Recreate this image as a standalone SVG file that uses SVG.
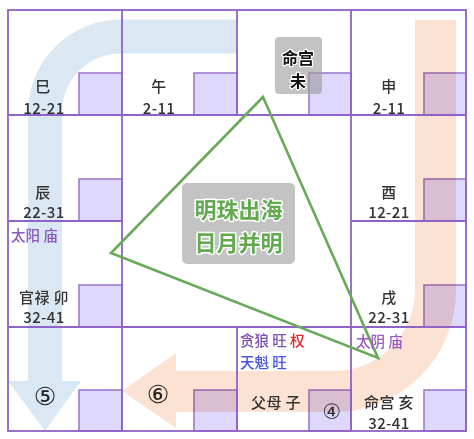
<svg xmlns="http://www.w3.org/2000/svg" width="474" height="439" viewBox="0 0 474 439">
<style>
text{font-family:"Noto Sans CJK SC","Noto Sans",sans-serif;dominant-baseline:central;text-anchor:middle}
.lbl{font-size:15px;fill:#333;font-weight:500;letter-spacing:0.4px}
.star{font-size:14.5px;text-anchor:start;font-weight:500}
.box{fill:#ddd8fc;stroke:#9a72d0;stroke-width:1.5}
.grid{stroke:#8e62c6;stroke-width:1.8;fill:none}
.num{font-size:25px;fill:#222;font-family:"DejaVu Sans",sans-serif}
.hl{font-weight:bold;paint-order:stroke;stroke:#fff;stroke-linejoin:round}
</style>
<rect width="474" height="439" fill="#fff"/>
<g id="cells-boxes">
<rect class="box" x="79" y="73" width="43" height="42"/>
<rect class="box" x="194" y="73" width="43" height="42"/>
<rect class="box" x="309" y="73" width="42" height="42"/>
<rect class="box" x="424" y="73" width="42" height="42"/>
<rect class="box" x="79" y="179" width="43" height="42"/>
<rect class="box" x="424" y="179" width="42" height="42"/>
<rect class="box" x="79" y="285" width="43" height="42"/>
<rect class="box" x="424" y="285" width="42" height="42"/>
<rect class="box" x="79" y="390" width="43" height="41"/>
<rect class="box" x="194" y="390" width="43" height="41"/>
<rect class="box" x="309" y="390" width="42" height="41"/>
<rect class="box" x="424" y="390" width="42" height="41"/>
</g>
<g id="flow-arrows" style="mix-blend-mode:multiply">
<path d="M237 36.5 H121 A76 76 0 0 0 45 112.5 V382" fill="none" stroke="#dae8f4" stroke-width="34"/>
<polygon points="8,381 81,381 45,431" fill="#dae8f4"/>
<path d="M435.5 20 V290 A101.5 101.5 0 0 1 334 391.5 H175" fill="none" stroke="#fbe2d3" stroke-width="41"/>
<polygon points="176,353 176,428 122,391" fill="#fbe2d3"/>
</g>
<g id="grid" class="grid">
<rect x="8" y="10" width="458" height="421"/>
<line x1="122" y1="10" x2="122" y2="431"/>
<line x1="351" y1="10" x2="351" y2="431"/>
<line x1="237" y1="10" x2="237" y2="115"/>
<line x1="237" y1="327" x2="237" y2="431"/>
<line x1="8" y1="115" x2="466" y2="115"/>
<line x1="8" y1="327" x2="466" y2="327"/>
<line x1="8" y1="221" x2="122" y2="221"/>
<line x1="351" y1="221" x2="466" y2="221"/>
</g>
<g id="connectors">
<polygon points="263,97 111,253 378,358" fill="none" stroke="#69a95a" stroke-width="2.6" stroke-linejoin="miter"/>
</g>
<g id="cell-si"><text class="lbl" x="43" y="85">巳</text><text class="lbl" x="44" y="107">12-21</text></g>
<g id="cell-wu"><text class="lbl" x="159" y="85">午</text><text class="lbl" x="159" y="107">2-11</text></g>
<g id="cell-wei">
<rect x="275" y="37" width="47" height="57" rx="4" fill="#9c9c9c" fill-opacity="0.62"/>
<text class="hl" x="298" y="57" font-size="16" fill="#111" stroke-width="2.5">命宫</text>
<text class="hl" x="298" y="80" font-size="16" fill="#111" stroke-width="2.5">未</text>
</g>
<g id="cell-shen"><text class="lbl" x="389" y="85">申</text><text class="lbl" x="389" y="107">2-11</text></g>
<g id="cell-chen"><text class="lbl" x="43" y="191">辰</text><text class="lbl" x="44" y="211">22-31</text>
<text class="star" x="11" y="234" fill="#8a58bf">太阳 庙</text></g>
<g id="cell-you"><text class="lbl" x="389" y="191">酉</text><text class="lbl" x="389" y="211">12-21</text></g>
<g id="cell-mao"><text class="lbl" x="44" y="296">官禄 卯</text><text class="lbl" x="44" y="316">32-41</text></g>
<g id="cell-xu"><text class="lbl" x="389" y="296">戌</text><text class="lbl" x="389" y="316">22-31</text></g>
<g id="cell-yin"><text class="num" x="45" y="396">⑤</text></g>
<g id="cell-chou"><text class="num" x="158" y="394">⑥</text></g>
<g id="cell-zi">
<text class="star" x="240" y="339"><tspan fill="#7e4fb5">贪狼 旺 </tspan><tspan fill="#e5242a">权</tspan></text>
<text class="star" x="240" y="361" fill="#4b55e0">天魁 旺</text>
<text class="lbl" x="276" y="401">父母 子</text>
<text x="332" y="412" font-size="21" fill="#333" style="font-family:'DejaVu Sans',sans-serif">④</text>
</g>
<g id="cell-hai">
<text class="star" x="356" y="340" fill="#9a5cbf">太阴 庙</text>
<text class="lbl" x="389" y="401">命宫 亥</text><text class="lbl" x="389" y="422">32-41</text>
</g>
<g id="center-label">
<rect x="182" y="183" width="113" height="81" rx="5" fill="#c3c3c3"/>
<text class="hl" x="238.5" y="208" font-size="22" fill="#63a950" stroke-width="3">明珠出海</text>
<text class="hl" x="238.5" y="241" font-size="22" fill="#63a950" stroke-width="3">日月并明</text>
</g>
</svg>
